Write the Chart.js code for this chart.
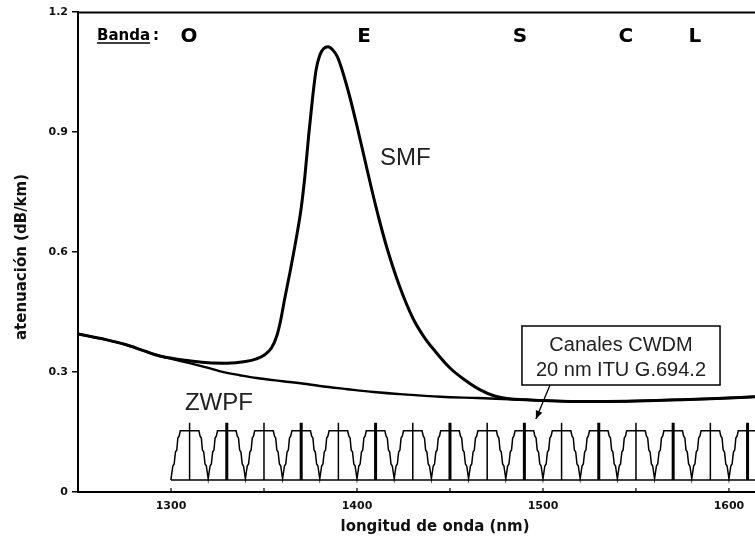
<!DOCTYPE html>
<html><head><meta charset="utf-8">
<script src="https://cdn.jsdelivr.net/npm/chart.js@4"></script>
<style>html,body{margin:0;padding:0;background:#fff}#wrap{width:755px;height:541px}</style>
</head><body><div id="wrap"><canvas id="c" width="755" height="541"></canvas></div>
<script>
// ---- data ----
const smfNm  = [1250,1265,1276,1286,1294,1302,1310,1320,1330,1340,1346,1350,1354,1357,1359,1361,1364,1367,1370,1372,1374,1376,1378,1380,1382,1384.5,1387,1389.5,1392,1396,1400,1404,1408,1412,1416,1423,1430,1436,1442,1450,1458,1466,1474,1482,1500,1523,1545,1568,1590,1614];
const smfAtt = [0.395,0.381,0.368,0.352,0.340,0.333,0.328,0.323,0.322,0.326,0.333,0.342,0.360,0.392,0.430,0.480,0.550,0.625,0.710,0.790,0.890,0.980,1.055,1.092,1.108,1.113,1.105,1.088,1.055,0.990,0.915,0.835,0.755,0.680,0.612,0.513,0.435,0.388,0.352,0.310,0.280,0.256,0.240,0.233,0.229,0.226,0.227,0.230,0.233,0.238];
const zwpfNm  = [1250,1265,1276,1286,1294,1302,1310,1321,1330,1337,1346,1360,1373,1380,1395,1409,1425,1445,1465,1482,1500,1523,1545,1568,1590,1614];
const zwpfAtt = [0.395,0.381,0.368,0.352,0.340,0.331,0.322,0.309,0.298,0.292,0.285,0.277,0.270,0.265,0.257,0.250,0.244,0.238,0.235,0.232,0.229,0.226,0.227,0.230,0.233,0.238];
const channelNm = [1310,1330,1350,1370,1390,1410,1430,1450,1470,1490,1510,1530,1550,1570,1590,1610];
const filterOffsetNm = [-10,-9,-8.3,-7.6,-6.9,-6.3,-5.6,-5,5,5.6,6.3,6.9,7.6,8.3,9,10];
const filterAtt      = [0.033,0.065,0.07,0.10,0.105,0.135,0.14,0.153,0.153,0.14,0.135,0.105,0.10,0.07,0.065,0.033];
const filterBaseAtt = [0.03];
const channelMarkAtt = [0.173];
const xTickNm = [1300,1400,1500,1600];
const xMinorTickNm = [1300,1350,1400,1450,1500,1550,1600];
const yTickAtt = [0,0.3,0.6,0.9,1.2];
const yTickLabels = ['0','0.3','0.6','0.9','1.2'];

// ---- build tables for the library ----
const pts = (xs, ys) => xs.map((x, i) => ({x, y: ys[i]}));
const baseAtt = filterBaseAtt[0], markTop = channelMarkAtt[0];
const comb = [{x: 1300, y: baseAtt}];
channelNm.forEach(c => filterOffsetNm.forEach((o, i) => comb.push({x: c + o, y: filterAtt[i]})));
const marks = list => { const out = []; list.forEach(c => { out.push({x: c, y: baseAtt}, {x: c, y: markTop}, {x: c, y: null}); }); return out; };
const thinMarks = marks(channelNm.filter((c, i) => i % 2 === 0));
const thickMarks = marks(channelNm.filter((c, i) => i % 2 === 1));

const ds = (data, w, extra) => Object.assign({data, borderColor: '#000', borderWidth: w, pointRadius: 0, fill: false, tension: 0, spanGaps: false}, extra || {});

const annot = {
  id: 'annot',
  afterDatasetsDraw(chart) {
    const {ctx, chartArea: a, scales: {x, y}} = chart;
    const X = v => x.getPixelForValue(v), Y = v => y.getPixelForValue(v);
    ctx.save();
    ctx.strokeStyle = '#000'; ctx.fillStyle = '#000';
    // top frame line
    ctx.lineWidth = 2;
    ctx.beginPath(); ctx.moveTo(a.left, a.top + 0.5); ctx.lineTo(a.right, a.top + 0.5); ctx.stroke();
    // inward minor ticks on x axis
    ctx.lineWidth = 1.2;
    xMinorTickNm.forEach(v => { ctx.beginPath(); ctx.moveTo(X(v), a.bottom); ctx.lineTo(X(v), a.bottom - 4); ctx.stroke(); });
    // band labels
    ctx.textBaseline = 'alphabetic';
    ctx.font = 'bold 15px "DejaVu Sans"'; ctx.textAlign = 'left';
    const bx = X(1260.2), by = Y(1.13);
    ctx.fillText('Banda', bx, by);
    const bw = ctx.measureText('Banda').width;
    ctx.fillText(':', bx + bw + 3, by);
    ctx.lineWidth = 1.3;
    ctx.beginPath(); ctx.moveTo(bx, by + 3); ctx.lineTo(bx + bw, by + 3); ctx.stroke();
    ctx.font = 'bold 20px "DejaVu Sans"'; ctx.textAlign = 'center';
    [['O', 1309.7], ['E', 1403.8], ['S', 1487.6], ['C', 1544.6], ['L', 1581.7]].forEach(([t, v]) => ctx.fillText(t, X(v), Y(1.126)));
    // curve labels
    ctx.font = '24px "Liberation Sans"'; ctx.textAlign = 'left'; ctx.fillStyle = '#222';
    ctx.fillText('SMF', X(1412.4), Y(0.8175));
    ctx.fillText('ZWPF', X(1307.5), Y(0.205));
    // CWDM box
    const x0 = X(1488.7), x1 = X(1595.2), y0 = Y(0.415), y1 = Y(0.2675);
    ctx.fillStyle = '#fff'; ctx.fillRect(x0, y0, x1 - x0, y1 - y0);
    ctx.lineWidth = 1.5; ctx.strokeRect(x0, y0, x1 - x0, y1 - y0);
    ctx.fillStyle = '#222'; ctx.font = '20px "Liberation Sans"'; ctx.textAlign = 'center'; ctx.textBaseline = 'middle';
    ctx.fillText('Canales CWDM', (x0 + x1) / 2, y0 + 19);
    ctx.fillText('20 nm ITU G.694.2', (x0 + x1) / 2, y0 + 44);
    // arrow
    const ax0 = X(1503.8), ay0 = y1, ax1 = X(1496.2), ay1 = Y(0.1825);
    ctx.lineWidth = 1.3; ctx.beginPath(); ctx.moveTo(ax0, ay0); ctx.lineTo(ax1, ay1); ctx.stroke();
    const ang = Math.atan2(ay1 - ay0, ax1 - ax0), L = 9, W = 0.4;
    ctx.fillStyle = '#000'; ctx.beginPath(); ctx.moveTo(ax1, ay1);
    ctx.lineTo(ax1 - L * Math.cos(ang - W), ay1 - L * Math.sin(ang - W));
    ctx.lineTo(ax1 - L * Math.cos(ang + W), ay1 - L * Math.sin(ang + W));
    ctx.closePath(); ctx.fill();
    // axis titles
    ctx.fillStyle = '#111'; ctx.font = 'bold 15px "DejaVu Sans"'; ctx.textAlign = 'center'; ctx.textBaseline = 'middle';
    ctx.fillText('longitud de onda (nm)', 435, 527);
    ctx.translate(22, 257); ctx.rotate(-Math.PI / 2);
    ctx.fillText('atenuación (dB/km)', 0, 0);
    ctx.restore();
  }
};

new Chart(document.getElementById('c'), {
  type: 'line',
  data: { datasets: [
    ds(pts(zwpfNm, zwpfAtt), 2.4, {cubicInterpolationMode: 'monotone', label: 'ZWPF'}),
    ds(pts(smfNm, smfAtt), 3, {cubicInterpolationMode: 'monotone', label: 'SMF'}),
    ds([{x: 1300, y: baseAtt}, {x: 1614, y: baseAtt}], 1.5, {label: 'base'}),
    ds(comb, 1.5, {label: 'CWDM'}),
    ds(thinMarks, 1.5, {label: 'thin'}),
    ds(thickMarks, 3, {label: 'thick'})
  ]},
  options: {
    responsive: false, animation: false, parsing: true,
    layout: { padding: {top: 12, right: 0, bottom: 0, left: 0} },
    plugins: { legend: {display: false}, tooltip: {enabled: false} },
    scales: {
      x: {
        type: 'linear', min: 1250, max: 1614,
        afterFit: s => { s.height = 49; },
        afterBuildTicks: s => { s.ticks = xTickNm.map(v => ({value: v})); },
        grid: {display: false, drawTicks: false},
        border: {display: true, color: '#000', width: 2},
        ticks: {color: '#111', font: {family: 'DejaVu Sans', size: 11, weight: 'bold'}, padding: 8, maxRotation: 0, autoSkip: false, callback: v => String(v)}
      },
      y: {
        type: 'linear', min: 0, max: 1.2,
        afterFit: s => { s.width = 78; },
        afterBuildTicks: s => { s.ticks = yTickAtt.map(v => ({value: v})); },
        grid: {display: true, drawOnChartArea: false, drawTicks: true, tickLength: 6, color: '#000', lineWidth: 1.5},
        border: {display: true, color: '#000', width: 2},
        ticks: {color: '#111', font: {family: 'DejaVu Sans', size: 11, weight: 'bold'}, padding: 4, autoSkip: false,
          callback: (v) => { const i = yTickAtt.findIndex(t => Math.abs(t - v) < 1e-6); return i >= 0 ? yTickLabels[i] : ''; }}
      }
    }
  },
  plugins: [annot]
});
</script></body></html>
